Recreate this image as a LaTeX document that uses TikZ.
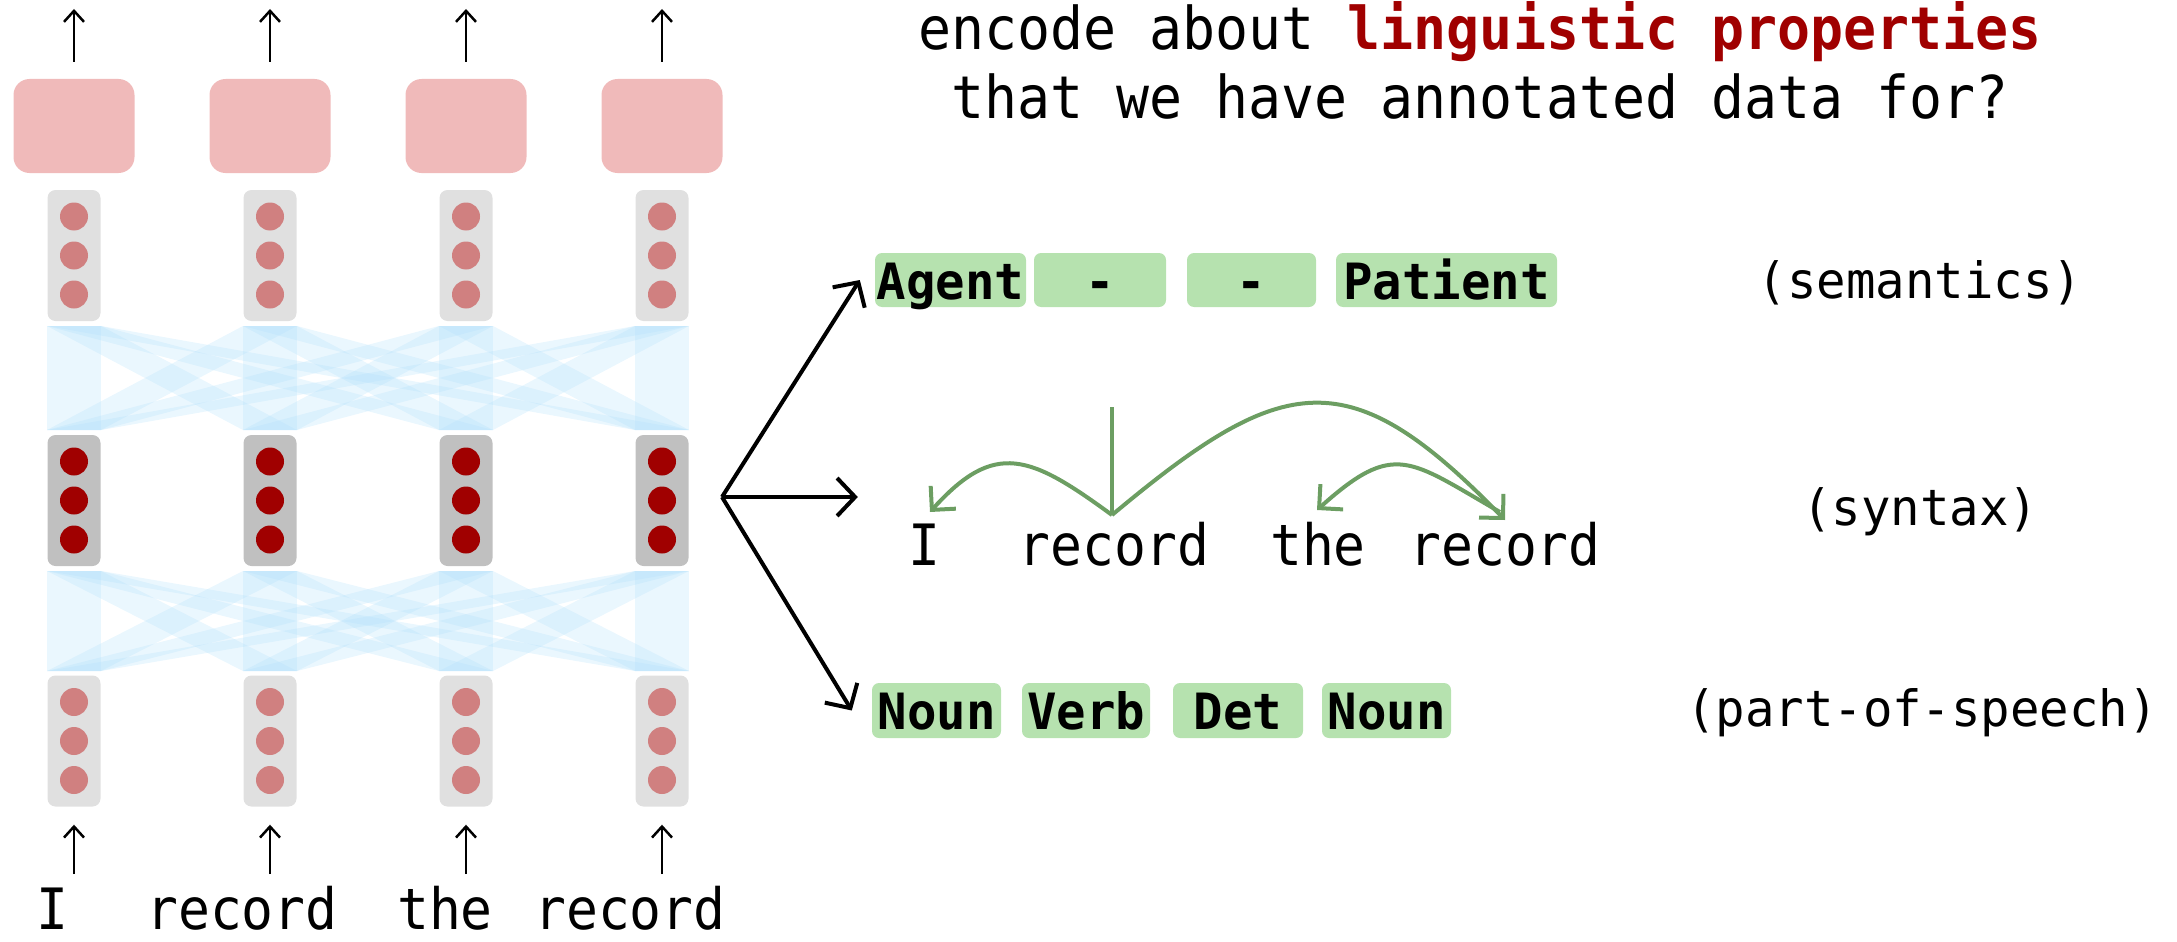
\documentclass[tikz,border=0pt]{standalone}
\usepackage{fontspec}
\newfontfamily\mono{DejaVu Sans Mono}[FakeStretch=0.93]
\newfontfamily\monowide{DejaVu Sans Mono}[FakeStretch=0.98]
\usetikzlibrary{arrows.meta}

\definecolor{pinkbox}{RGB}{240,186,186}
\definecolor{lightcol}{RGB}{224,224,224}
\definecolor{darkcol}{RGB}{192,192,192}
\definecolor{lightdot}{RGB}{208,128,128}
\definecolor{darkdot}{RGB}{160,0,0}
\definecolor{bandblue}{RGB}{173,222,250}
\definecolor{tagfill}{RGB}{182,226,175}
\definecolor{arcgreen}{RGB}{108,158,98}
\definecolor{hilite}{RGB}{160,0,0}

\newcommand{\fttitle}{\mono\fontsize{59}{59}\selectfont}
\newcommand{\ftword}{\mono\fontsize{57}{57}\selectfont}
\newcommand{\ftlabel}{\monowide\fontsize{50}{50}\selectfont}

\begin{document}
\begin{tikzpicture}[x=1pt,y=-1pt,
  outbox/.style={fill=pinkbox, rounded corners=16pt, minimum width=121pt,
    minimum height=94pt, inner sep=0pt},
  vec/.style={rounded corners=8pt, minimum width=53pt, minimum height=131pt,
    inner sep=0pt},
  band/.style={fill=bandblue, fill opacity=0.25},
  colarrow/.style={line width=2.5pt, -{Straight Barb[length=11pt,width=20pt]}},
  fanarrow/.style={line width=4pt, -{Straight Barb[length=18pt,width=38pt]}},
  deparc/.style={draw=arcgreen, line width=4pt},
  deparrow/.style={deparc, -{Straight Barb[length=17pt,width=34pt]}},
  word/.style={inner sep=0pt, anchor=base, font=\ftword},
  tag/.style={fill=tagfill, rounded corners=7pt, inner sep=0pt,
    text height=38pt, text depth=0pt, font=\ftlabel\bfseries},
  layerlabel/.style={inner sep=0pt, anchor=base, font=\ftlabel},
  title/.style={inner sep=0pt, anchor=base, font=\fttitle}
]
\useasboundingbox (0,0) rectangle (2177,942);

% ---- attention-style connections between layers
\foreach \a in {74,270,466,662}{
  \foreach \b in {74,270,466,662}{
    \fill[band] (\a-27,326) -- (\a+27,326) -- (\b+27,430) -- (\b-27,430) -- cycle;
    \fill[band] (\a-27,571) -- (\a+27,571) -- (\b+27,671) -- (\b-27,671) -- cycle;
  }
}

% ---- network columns
\foreach \x [count=\i] in {74,270,466,662}{
  \node[outbox] (p\i) at (\x,126) {};
  \node[vec, fill=lightcol] (u\i) at (\x,255.5) {};
  \node[vec, fill=darkcol]  (m\i) at (\x,500.5) {};
  \node[vec, fill=lightcol] (l\i) at (\x,741) {};
  \foreach \d in {-39,0,39}{
    \fill[lightdot] (\x,255.5+\d) circle[radius=14pt];
    \fill[darkdot]  (\x,500.5+\d) circle[radius=14pt];
    \fill[lightdot] (\x,741+\d)   circle[radius=14pt];
  }
  \coordinate (top\i) at (\x,9);
  \coordinate (in\i) at (\x,874);
  \draw[colarrow, shorten <=17pt] (p\i.north) -- (top\i);
  \draw[colarrow, shorten >=18pt] (in\i) -- (l\i.south);
}

% ---- input sentence
\node[word] (w1) at (52,929) {I};
\node[word] (w2) at (242,929) {record};
\node[word] (w3) at (445,929) {the};
\node[word] (w4) at (630,929) {record};

% ---- question
\node[title] (q1) at (1480,50) {encode about {\bfseries\color{hilite}linguistic properties}};
\node[title] (q2) at (1480,118) {that we have annotated data for?};

% ---- semantic roles
\node[tag, minimum width=151pt, minimum height=54pt] (sem1) at (950.5,280) {Agent};
\node[tag, minimum width=132pt, minimum height=54pt] (sem2) at (1100,280) {-};
\node[tag, minimum width=129pt, minimum height=54pt] (sem3) at (1251.5,280) {-};
\node[tag, minimum width=221pt, minimum height=54pt] (sem4) at (1446.5,280) {Patient};
\node[layerlabel] (lsem) at (1920,298) {(semantics)};

% ---- dependency parse
\node[word] (s1) at (924,565) {I};
\node[word] (s2) at (1114,565) {record};
\node[word] (s3) at (1318,565) {the};
\node[word] (s4) at (1505,565) {record};
\node[layerlabel] (lsyn) at (1920,525) {(syntax)};

\coordinate (root) at (1112,407);
\coordinate (head2) at (1112,515);
\coordinate (dep1) at (930,512);
\coordinate (dep4) at (1505,520);
\coordinate (head4) at (1500,512);
\coordinate (dep3) at (1317,510);
\draw[deparc] (root) -- (head2);
\draw[deparrow] (head2) .. controls (1030,455) and (995,440) .. (dep1);
\draw[deparrow] (head2) .. controls (1284,371) and (1349,359) .. (dep4);
\draw[deparrow] (head4) .. controls (1409,460) and (1395,440) .. (dep3);

% ---- part-of-speech tags
\node[tag, minimum width=129pt, minimum height=55pt] (pos1) at (936.5,710.5) {Noun};
\node[tag, minimum width=128pt, minimum height=55pt] (pos2) at (1086,710.5) {Verb};
\node[tag, minimum width=130pt, minimum height=55pt] (pos3) at (1238,710.5) {Det};
\node[tag, minimum width=129pt, minimum height=55pt] (pos4) at (1386.5,710.5) {Noun};
\node[layerlabel] (lpos) at (1922,726) {(part-of-speech)};

% ---- probing arrows from the middle layer
\coordinate (fan) at (722,497);
\draw[fanarrow] (fan) -- ([xshift=-15pt]sem1.west);
\draw[fanarrow] (fan) -- ([xshift=-50pt]s1.west |- fan);
\draw[fanarrow] (fan) -- ([xshift=-20pt]pos1.west);
\end{tikzpicture}
\end{document}
